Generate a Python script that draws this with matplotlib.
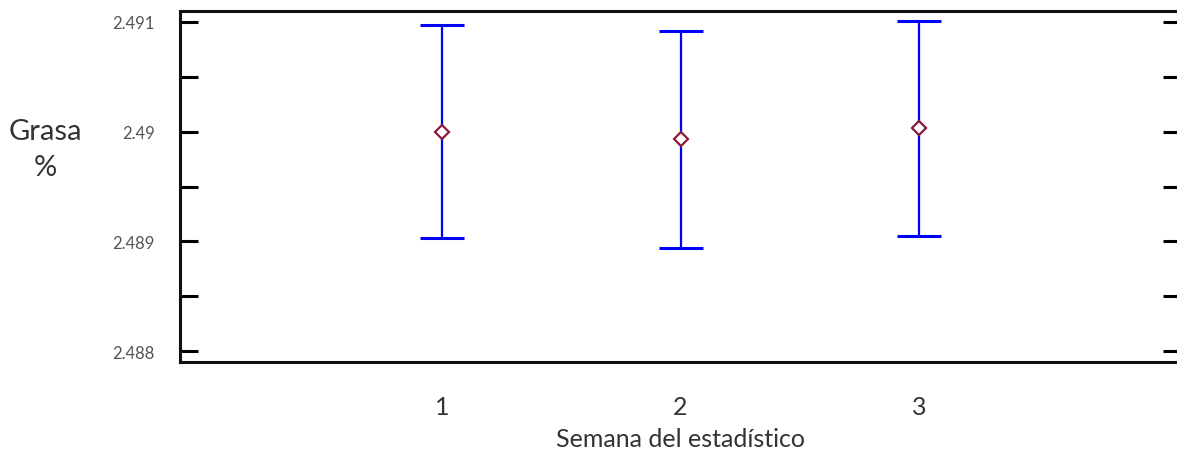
import numpy as np
import matplotlib
matplotlib.use("Agg")
import matplotlib.pyplot as plt
from matplotlib.ticker import MultipleLocator, FuncFormatter

plt.rcParams['font.family'] = ['Lato', 'DejaVu Sans']

# medias por semana y semiancho del intervalo
semanas = [1, 2, 3]
medias = [2.49000, 2.48993, 2.49003]
semiancho = [0.00097, 0.00099, 0.00098]

fig = plt.figure(figsize=(11.77, 4.52), dpi=100)
ax = fig.add_axes([180/1177, 89/452, 1001/1177, 351/452])

ax.errorbar(semanas, medias, yerr=semiancho, fmt='none', ecolor='#0000ff',
            elinewidth=1.6, capsize=15.5, capthick=2.2, zorder=2)
ax.plot(semanas, medias, 'D', ms=7.5, mfc='white', mec='#8b1a3a', mew=1.6, zorder=3)

ax.set_xlim(-0.1, 4.1)
ax.set_ylim(2.4879, 2.4911)

ax.set_xticks(semanas)
ax.yaxis.set_major_locator(MultipleLocator(0.001))
ax.yaxis.set_minor_locator(MultipleLocator(0.0005))
ax.yaxis.set_major_formatter(FuncFormatter(lambda v, p: ('%.3f' % v).rstrip('0')))

for s in ax.spines.values():
    s.set_linewidth(2.2)
    s.set_color('#111111')

ax.tick_params(axis='y', which='both', direction='in', length=13, width=2.2,
               right=True, labelsize=12, labelcolor='#555555', pad=18)
ax.tick_params(axis='x', length=0, labelsize=18, labelcolor='#333333', pad=24)

ax.set_xlabel('Semana del estadístico', fontsize=18, color='#333333', labelpad=6)
fig.text(45/1177, 1 - 150/452, 'Grasa\n%', fontsize=21, color='#333333',
         ha='center', va='center', linespacing=1.45)

plt.savefig('out.png', dpi=100)
